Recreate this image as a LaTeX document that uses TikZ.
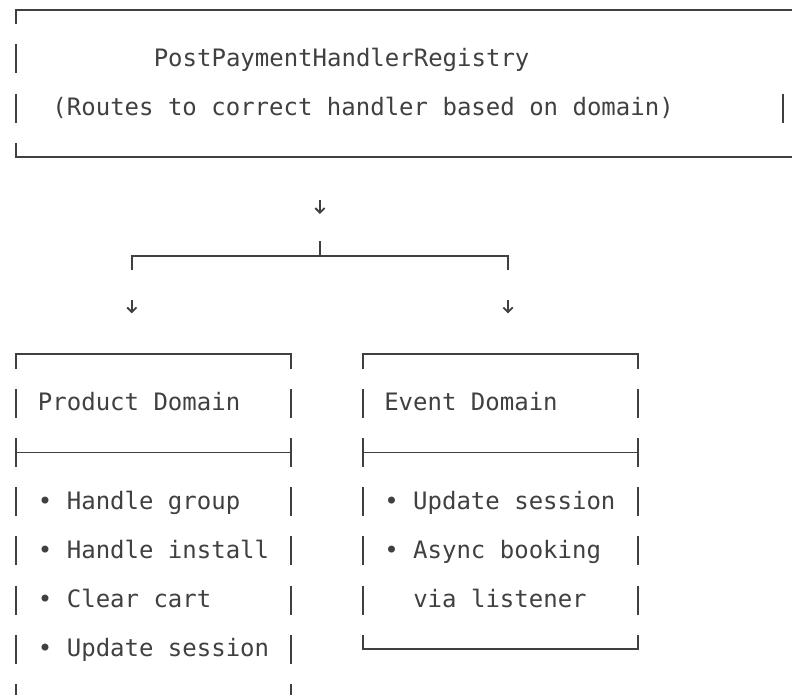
\documentclass[tikz,border=0pt]{standalone}
\usepackage{fontspec}
\usepackage{xcolor}
\usepackage{tikz}
\usetikzlibrary{arrows.meta}
\newfontfamily\dejamono{DejaVu Sans Mono}
\definecolor{ink}{RGB}{64,64,64}
\newcommand{\gridfont}{\dejamono\fontsize{18pt}{22pt}\selectfont}

\begin{document}
\begin{tikzpicture}[x=0.75pt,y=0.75pt,yscale=-1,xscale=1,
  txt/.style={anchor=base west,inner sep=0pt,font=\gridfont,text=ink},
  rule/.style={draw=ink,line width=1.4pt},
  downtip/.style={rule,-{Straight Barb[length=3.5pt,width=7pt]}}]
\path [use as bounding box] (0,0) rectangle (792,695);

%Registry box [id:reg]
\draw [rule] (16,24.2) -- (16,9.7) -- (792,9.7) ;
\draw [rule] (16,44.4) -- (16,73.4) (16,93.6) -- (16,122.6) ;
\draw [rule] (782.9,93.6) -- (782.9,122.6) ;
\draw [rule] (16,142.8) -- (16,157.3) -- (792,157.3) ;

% Text Node
\node [txt] (registry) at (153.5,66.2) {PostPaymentHandlerRegistry};
% Text Node
\node [txt] (routes) at (52.2,115.4) {(Routes to correct handler based on domain)};

%Arrow to fork [id:arr1]
\coordinate (regout) at (319.9,200.5);
\coordinate (forkin) at (319.9,214);
\draw [downtip] (regout) -- (forkin) ;

%Fork [id:fork]
\coordinate (fork) at (319.9,255.7);
\coordinate (forkL) at (131.8,255.7);
\coordinate (forkR) at (508,255.7);
\draw [rule] (319.9,241.2) -- (fork) ;
\draw [rule] (131.8,270.2) -- (forkL) -- (forkR) -- (508,270.2) ;

%Arrows to domains [id:arr2]
\coordinate (prodout) at (131.8,299.9);
\coordinate (prodin) at (131.8,313.4);
\coordinate (evtout) at (508,299.9);
\coordinate (evtin) at (508,313.4);
\draw [downtip] (prodout) -- (prodin) ;
\draw [downtip] (evtout) -- (evtin) ;

%Product box [id:prod]
\draw [rule] (16,368.6) -- (16,354.1) -- (290.9,354.1) -- (290.9,368.6) ;
\draw [rule] (16,452.5) -- (290.9,452.5) ;
\draw [rule] (16,388.8) -- (16,417.8) (16,438) -- (16,467) (16,487.2) -- (16,516.2)
  (16,536.4) -- (16,565.4) (16,585.6) -- (16,614.6) (16,634.8) -- (16,663.8) (16,684) -- (16,695) ;
\draw [rule] (290.9,388.8) -- (290.9,417.8) (290.9,438) -- (290.9,467) (290.9,487.2) -- (290.9,516.2)
  (290.9,536.4) -- (290.9,565.4) (290.9,585.6) -- (290.9,614.6) (290.9,634.8) -- (290.9,663.8) (290.9,684) -- (290.9,695) ;

% Text Node
\node [txt] (product) at (37.7,410.6) {Product Domain};
% Text Node
\node [txt] (pgroup) at (37.7,509) {• Handle group};
% Text Node
\node [txt] (pinstall) at (37.7,558.2) {• Handle install};
% Text Node
\node [txt] (pcart) at (37.7,607.4) {• Clear cart};
% Text Node
\node [txt] (psession) at (37.7,656.6) {• Update session};

%Event box [id:evt]
\draw [rule] (363.3,368.6) -- (363.3,354.1) -- (638.2,354.1) -- (638.2,368.6) ;
\draw [rule] (363.3,452.5) -- (638.2,452.5) ;
\draw [rule] (363.3,388.8) -- (363.3,417.8) (363.3,438) -- (363.3,467) (363.3,487.2) -- (363.3,516.2)
  (363.3,536.4) -- (363.3,565.4) (363.3,585.6) -- (363.3,614.6) ;
\draw [rule] (638.2,388.8) -- (638.2,417.8) (638.2,438) -- (638.2,467) (638.2,487.2) -- (638.2,516.2)
  (638.2,536.4) -- (638.2,565.4) (638.2,585.6) -- (638.2,614.6) ;
\draw [rule] (363.3,634.8) -- (363.3,649.3) -- (638.2,649.3) -- (638.2,634.8) ;

% Text Node
\node [txt] (event) at (384,410.6) {Event Domain};
% Text Node
\node [txt] (esession) at (384,509) {• Update session};
% Text Node
\node [txt] (ebooking) at (384,558.2) {• Async booking};
% Text Node
\node [txt] (elistener) at (413,607.4) {via listener};
\end{tikzpicture}
\end{document}
